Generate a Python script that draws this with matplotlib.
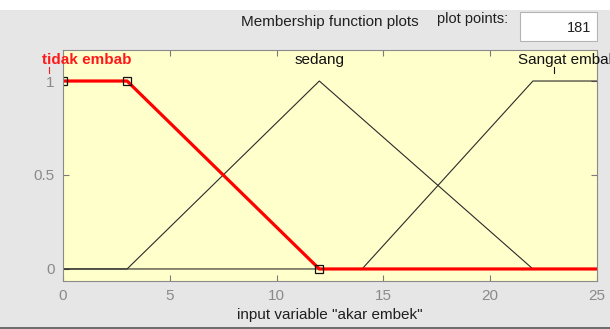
import matplotlib
matplotlib.use('Agg')
import matplotlib.pyplot as plt
import matplotlib.patches as mpatches

FONT = 'Liberation Sans'
BG = '#e6e6e6'
AX_BG = '#ffffcc'

# membership functions of input variable "akar embek"
mf_names = ['tidak embab', 'sedang', 'Sangat embab']
tidak_x = [0, 0, 3, 12, 25]
tidak_y = [1, 1, 1, 0, 0]
sedang_x = [0, 3, 12, 22, 25]
sedang_y = [0, 0, 1, 0, 0]
sangat_x = [0, 14, 22, 25]
sangat_y = [0, 0, 1, 1]
tidak_params = [0, 3, 12]          # corner points marked with squares
tidak_param_y = [1, 1, 0]
label_x = [1.1, 12, 23.6]          # label centres
x_ticks = [0, 5, 10, 15, 20, 25]
y_ticks = [0, 0.5, 1]
y_tick_labels = ['0', '0.5', '1']

plt.rcParams['font.family'] = FONT

W, H = 610, 329
fig = plt.figure(figsize=(W / 100, H / 100), dpi=100)
fig.patch.set_facecolor(BG)

# white strip at top and separator line at bottom
fig.add_artist(mpatches.Rectangle((0, 1 - 10 / H), 1, 10 / H, transform=fig.transFigure,
                                  facecolor='white', edgecolor='none'))
fig.add_artist(mpatches.Rectangle((0, 0), 1, 2 / H, transform=fig.transFigure,
                                  facecolor='#6e6e6e', edgecolor='none'))

# "plot points" box
fig.add_artist(mpatches.Rectangle((520 / W, 1 - 41 / H), 77 / W, 29 / H,
                                  transform=fig.transFigure, facecolor='white',
                                  edgecolor='#b4b4b4', linewidth=0.8))
fig.text(591 / W, 1 - 28 / H, '181', ha='right', va='center', fontsize=10.5, color='#202020')
fig.text(473 / W, 1 - 19 / H, 'plot points:', ha='center', va='center', fontsize=10.5, color='#202020')
fig.text(330 / W, 1 - 22 / H, 'Membership function plots', ha='center', va='center',
         fontsize=11, color='#202020')

ax = fig.add_axes([63 / W, 1 - 281 / H, (597 - 63) / W, (281 - 50) / H])
ax.set_facecolor(AX_BG)
ax.set_xlim(0, 25)
ax.set_ylim(-0.064, 1.165)

ax.plot(sedang_x, sedang_y, color='#2a2a2a', lw=0.8)
ax.plot(sangat_x, sangat_y, color='#2a2a2a', lw=0.8)
ax.plot(tidak_x, tidak_y, color='#ff0000', lw=2.3, solid_capstyle='butt')
ax.plot(tidak_params, tidak_param_y, ls='none', marker='s', ms=6, mfc='none',
        mec='#111111', mew=0.9)

colors = ['#ff1a1a', '#111111', '#111111']
weights = ['bold', 'normal', 'normal']
for name, lx, c, w in zip(mf_names, label_x, colors, weights):
    ax.text(lx, 1.11, name, ha='center', va='center', fontsize=11, color=c,
            fontweight=w, clip_on=False)
# underscore marks left under the word gaps
ax.plot([-0.65, -0.65], [1.045, 1.075], color='#ff1a1a', lw=0.8, clip_on=False)
ax.plot([23.0, 23.0], [1.045, 1.075], color='#111111', lw=0.8, clip_on=False)

ax.set_xticks(x_ticks)
ax.set_xticklabels([str(t) for t in x_ticks])
ax.set_yticks(y_ticks)
ax.set_yticklabels(y_tick_labels)
ax.tick_params(direction='in', top=True, right=True, length=4, width=0.8,
               colors='#7a7a7a', labelcolor='#8a8a8a', labelsize=11, pad=6)
for s in ax.spines.values():
    s.set_color('#8a8a8a')
    s.set_linewidth(0.8)

ax.set_xlabel('input variable "akar embek"', fontsize=11, color='#202020', labelpad=3)

fig.savefig('out.png', dpi=100, facecolor=BG)
